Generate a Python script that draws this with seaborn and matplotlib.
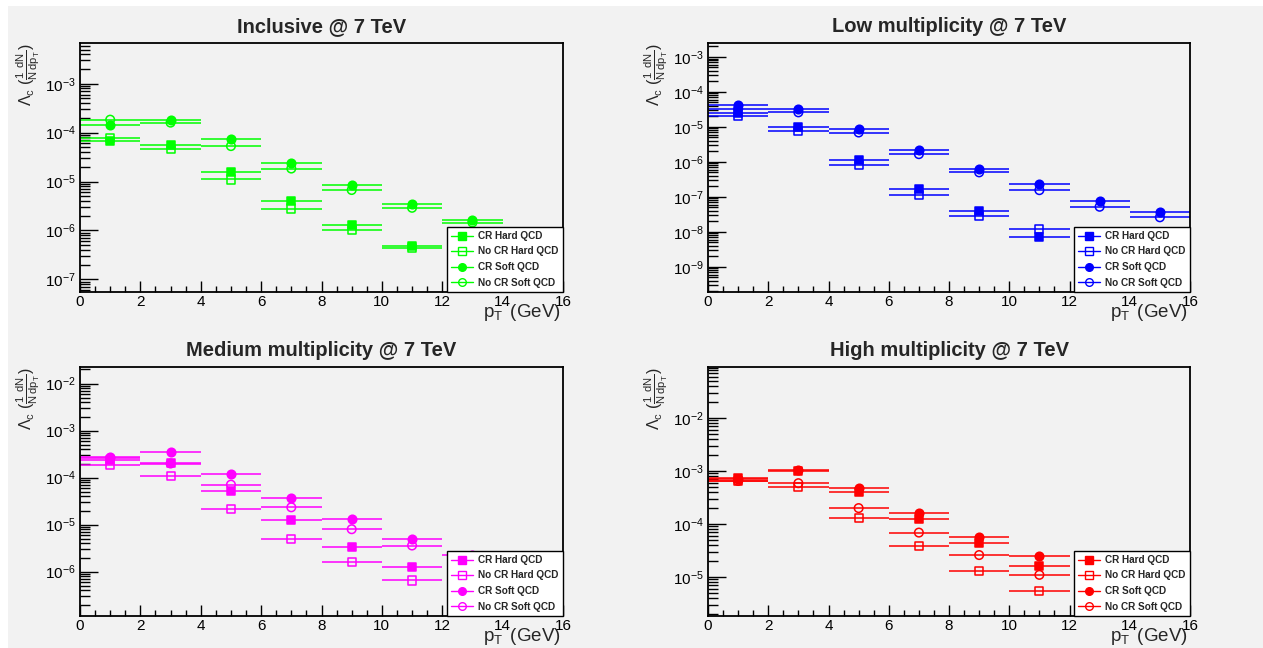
import numpy as np
import matplotlib
matplotlib.use("Agg")
import matplotlib.pyplot as plt
from matplotlib.lines import Line2D
from matplotlib.patches import Rectangle
from matplotlib.ticker import LogLocator, NullFormatter, MultipleLocator
import seaborn as sns

# ---------------- data ----------------
pt_centers = [1, 3, 5, 7, 9, 11, 13, 15]
bin_half_width = 1.0
nan = np.nan

series_labels = ["CR Hard QCD", "No CR Hard QCD", "CR Soft QCD", "No CR Soft QCD"]

panel_titles = ["Inclusive @ 7 TeV", "Low multiplicity @ 7 TeV",
                "Medium multiplicity @ 7 TeV", "High multiplicity @ 7 TeV"]

# Inclusive
incl_cr_hard    = [6.6e-5, 5.7e-5, 1.6e-5, 4.0e-6, 1.3e-6, 4.9e-7, nan, nan]
incl_nocr_hard  = [7.9e-5, 4.7e-5, 1.1e-5, 2.8e-6, 1.0e-6, 4.3e-7, nan, nan]
incl_cr_soft    = [1.43e-4, 1.8e-4, 7.4e-5, 2.4e-5, 8.5e-6, 3.5e-6, 1.65e-6, nan]
incl_nocr_soft  = [1.84e-4, 1.6e-4, 5.3e-5, 1.84e-5, 6.7e-6, 2.9e-6, 1.45e-6, nan]

# Low multiplicity
low_cr_hard     = [2.5e-5, 9.6e-6, 1.1e-6, 1.7e-7, 4.0e-8, 7.2e-9, nan, nan]
low_nocr_hard   = [2.06e-5, 7.5e-6, 7.9e-7, 1.1e-7, 2.8e-8, 1.2e-8, nan, nan]
low_cr_soft     = [4.1e-5, 3.3e-5, 8.6e-6, 2.15e-6, 6.2e-7, 2.3e-7, 7.5e-8, 3.6e-8]
low_nocr_soft   = [3.3e-5, 2.6e-5, 6.9e-6, 1.66e-6, 5.0e-7, 1.55e-7, 5.2e-8, 2.6e-8]

# Medium multiplicity
med_cr_hard     = [2.4e-4, 2.1e-4, 5.1e-5, 1.24e-5, 3.3e-6, 1.28e-6, nan, nan]
med_nocr_hard   = [1.86e-4, 1.1e-4, 2.15e-5, 4.9e-6, 1.6e-6, 6.5e-7, nan, nan]
med_cr_soft     = [2.8e-4, 3.5e-4, 1.2e-4, 3.7e-5, 1.32e-5, 4.9e-6, 2.3e-6, nan]
med_nocr_soft   = [2.6e-4, 2.0e-4, 7.1e-5, 2.34e-5, 8.0e-6, 3.6e-6, nan, nan]

# High multiplicity
high_cr_hard    = [7.5e-4, 1.0e-3, 4.1e-4, 1.23e-4, 4.3e-5, 1.6e-5, nan, nan]
high_nocr_hard  = [6.4e-4, 5.0e-4, 1.3e-4, 3.9e-5, 1.3e-5, 5.4e-6, nan, nan]
high_cr_soft    = [7.2e-4, 1.07e-3, 4.75e-4, 1.64e-4, 5.8e-5, 2.5e-5, nan, nan]
high_nocr_soft  = [6.5e-4, 5.9e-4, 2.0e-4, 6.9e-5, 2.6e-5, 1.1e-5, nan, nan]

panel_data = [
    [incl_cr_hard, incl_nocr_hard, incl_cr_soft, incl_nocr_soft],
    [low_cr_hard, low_nocr_hard, low_cr_soft, low_nocr_soft],
    [med_cr_hard, med_nocr_hard, med_cr_soft, med_nocr_soft],
    [high_cr_hard, high_nocr_hard, high_cr_soft, high_nocr_soft],
]
panel_colors = ["#00ff00", "#0000ff", "#ff00ff", "#ff0000"]
panel_ylims = [(5.5e-8, 6.8e-3), (1.9e-10, 2.5e-3), (1.14e-7, 2.26e-2), (1.84e-6, 0.092)]

# ---------------- style ----------------
sns.set_theme(style="ticks")
plt.rcParams["font.family"] = ["Liberation Sans", "DejaVu Sans"]
plt.rcParams["mathtext.fontset"] = "custom"
plt.rcParams["mathtext.rm"] = "Liberation Sans"
plt.rcParams["mathtext.it"] = "Liberation Sans"
plt.rcParams["mathtext.bf"] = "Liberation Sans:bold"

BG = "#f2f2f2"
W, H = 1263, 648
fig = plt.figure(figsize=(W / 100, H / 100), dpi=100, facecolor="white")
fig.patches.append(Rectangle((8 / W, 0), 1, 1 - 6 / H, transform=fig.transFigure,
                             facecolor=BG, edgecolor="none", zorder=-10))

# axes boxes in pixels: left, top, right, bottom
boxes = [(80, 43, 563, 292), (708, 43, 1190, 292),
         (80, 367, 563, 616), (708, 367, 1190, 616)]

markers = ["s", "s", "o", "o"]
filled = [True, False, True, False]

for i, (l, t, r, b) in enumerate(boxes):
    ax = fig.add_axes([l / W, 1 - b / H, (r - l) / W, (b - t) / H])
    ax.set_facecolor(BG)
    col = panel_colors[i]
    for j, vals in enumerate(panel_data[i]):
        y = np.array(vals, dtype=float)
        x = np.array(pt_centers, dtype=float)
        ax.errorbar(x, y, xerr=bin_half_width, fmt="none", ecolor=col,
                    elinewidth=1.1, capsize=0, zorder=2)
        sns.scatterplot(x=x, y=y, marker=markers[j], s=38 if markers[j] == "o" else 34,
                        color=col, edgecolor=col,
                        facecolor=(col if filled[j] else "none"),
                        linewidth=1.1, ax=ax, legend=False, zorder=3)
    ax.set_yscale("log")
    ax.set_xlim(0, 16)
    ax.set_ylim(*panel_ylims[i])
    ax.xaxis.set_major_locator(MultipleLocator(2))
    ax.xaxis.set_minor_locator(MultipleLocator(0.5))
    ax.yaxis.set_major_locator(LogLocator(base=10, numticks=20))
    ax.yaxis.set_minor_locator(LogLocator(base=10, subs=np.arange(2, 10), numticks=20))
    ax.yaxis.set_minor_formatter(NullFormatter())
    ax.tick_params(axis="both", which="both", direction="in", top=False, right=False,
                   colors="black", labelsize=11, width=1)
    ax.tick_params(axis="x", which="major", length=8, pad=2.5)
    ax.tick_params(axis="x", which="minor", length=4)
    ax.tick_params(axis="y", which="major", length=13, pad=3)
    ax.tick_params(axis="y", which="minor", length=7)
    for sp in ax.spines.values():
        sp.set_visible(True)
        sp.set_color("black")
        sp.set_linewidth(1.3)

    ax.set_title(panel_titles[i], fontsize=14.5, fontweight="bold", pad=8)
    ax.set_xlabel(r"$p_{T}\,$ (GeV)", fontsize=13.5, loc="right")
    ax.xaxis.set_label_coords(0.995, -0.042)
    ax.set_ylabel(r"$\Lambda_{c}$ $(\frac{1}{N}\frac{dN}{dp_{T}})$", fontsize=11.5, loc="top")
    ax.yaxis.set_label_coords(-0.078, 1.0)

    handles = [Line2D([0], [0], color=col, lw=1, marker=markers[j], markersize=5.5,
                      markerfacecolor=(col if filled[j] else "none"),
                      markeredgecolor=col) for j in range(4)]
    leg = ax.legend(handles, series_labels, loc="lower right", bbox_to_anchor=(1, 0),
                    borderaxespad=0, frameon=True, fancybox=False, framealpha=1,
                    facecolor="white", edgecolor="black",
                    prop={"weight": "bold", "size": 7.2},
                    handlelength=2.2, handletextpad=0.5, borderpad=0.45,
                    labelspacing=0.55)
    leg.get_frame().set_linewidth(1.0)
    leg.set_zorder(10)

fig.savefig("out.png", dpi=100, facecolor=fig.get_facecolor())
